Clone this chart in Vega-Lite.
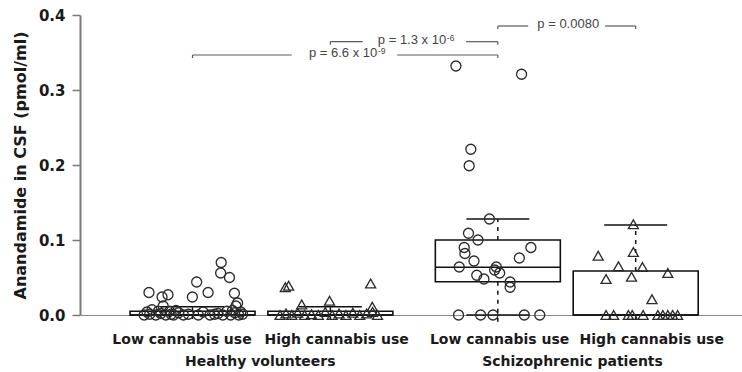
{
  "$schema": "https://vega.github.io/schema/vega-lite/v6.json",
  "width": 662,
  "height": 300,
  "autosize": {"type": "none"},
  "padding": {"left": 80, "top": 15, "right": 0, "bottom": 57},
  "background": "white",
  "config": {"view": {"stroke": null}},
  "datasets": {
    "boxes": [
      {"pos": 1.0, "q1": 0, "med": 0, "q3": 0.005, "hi": 0.011, "lo": 0, "tail": -0.009},
      {"pos": 2.0, "q1": 0, "med": 0, "q3": 0.005, "hi": 0.011, "lo": 0, "tail": -0.009},
      {"pos": 3.215, "q1": 0.0444, "med": 0.0636, "q3": 0.1, "hi": 0.128, "lo": 0, "tail": -0.009},
      {"pos": 4.215, "q1": 0, "med": 0, "q3": 0.0587, "hi": 0.12, "lo": 0, "tail": -0.009}
    ],
    "points": [
      {"use": "Low", "x": 1.208, "y": 0.070}, {"use": "Low", "x": 1.204, "y": 0.056}, {"use": "Low", "x": 1.268, "y": 0.050},
      {"use": "Low", "x": 1.030, "y": 0.044}, {"use": "Low", "x": 1.113, "y": 0.030}, {"use": "Low", "x": 0.999, "y": 0.024},
      {"use": "Low", "x": 0.684, "y": 0.030}, {"use": "Low", "x": 0.779, "y": 0.024}, {"use": "Low", "x": 0.822, "y": 0.027},
      {"use": "Low", "x": 1.304, "y": 0.029}, {"use": "Low", "x": 1.327, "y": 0.016}, {"use": "Low", "x": 1.315, "y": 0.012},
      {"use": "Low", "x": 0.787, "y": 0.012},
      {"use": "Low", "x": 0.649, "y": 0.0}, {"use": "Low", "x": 0.670, "y": 0.004}, {"use": "Low", "x": 0.706, "y": 0.007},
      {"use": "Low", "x": 0.734, "y": 0.0}, {"use": "Low", "x": 0.770, "y": 0.002}, {"use": "Low", "x": 0.806, "y": 0.0},
      {"use": "Low", "x": 0.834, "y": 0.005}, {"use": "Low", "x": 0.863, "y": 0.0}, {"use": "Low", "x": 0.899, "y": 0.003},
      {"use": "Low", "x": 0.934, "y": 0.0}, {"use": "Low", "x": 0.970, "y": 0.001}, {"use": "Low", "x": 1.042, "y": 0.0},
      {"use": "Low", "x": 1.077, "y": 0.004}, {"use": "Low", "x": 1.127, "y": 0.0}, {"use": "Low", "x": 1.185, "y": 0.002},
      {"use": "Low", "x": 1.220, "y": 0.0}, {"use": "Low", "x": 1.249, "y": 0.005}, {"use": "Low", "x": 1.277, "y": 0.0},
      {"use": "Low", "x": 1.306, "y": 0.003}, {"use": "Low", "x": 1.335, "y": 0.0}, {"use": "Low", "x": 1.363, "y": 0.001},
      {"use": "Low", "x": 0.690, "y": 0.001}, {"use": "Low", "x": 0.752, "y": 0.005}, {"use": "Low", "x": 0.845, "y": 0.001},
      {"use": "Low", "x": 0.880, "y": 0.006}, {"use": "Low", "x": 1.160, "y": 0.001}, {"use": "Low", "x": 1.290, "y": 0.006},
      {"use": "Low", "x": 1.350, "y": 0.004},
      {"use": "High", "x": 1.673, "y": 0.037}, {"use": "High", "x": 1.697, "y": 0.039}, {"use": "High", "x": 2.292, "y": 0.042},
      {"use": "High", "x": 1.994, "y": 0.019}, {"use": "High", "x": 1.792, "y": 0.014}, {"use": "High", "x": 2.304, "y": 0.011},
      {"use": "High", "x": 1.635, "y": 0.0}, {"use": "High", "x": 1.678, "y": 0.002}, {"use": "High", "x": 1.720, "y": 0.0},
      {"use": "High", "x": 1.763, "y": 0.003}, {"use": "High", "x": 1.813, "y": 0.0}, {"use": "High", "x": 1.863, "y": 0.001},
      {"use": "High", "x": 1.913, "y": 0.0}, {"use": "High", "x": 1.963, "y": 0.004}, {"use": "High", "x": 2.013, "y": 0.0},
      {"use": "High", "x": 2.063, "y": 0.002}, {"use": "High", "x": 2.113, "y": 0.0}, {"use": "High", "x": 2.163, "y": 0.003},
      {"use": "High", "x": 2.213, "y": 0.0}, {"use": "High", "x": 2.263, "y": 0.002}, {"use": "High", "x": 2.306, "y": 0.004},
      {"use": "High", "x": 2.342, "y": 0.0},
      {"use": "Low", "x": 2.911, "y": 0.332}, {"use": "Low", "x": 3.387, "y": 0.321}, {"use": "Low", "x": 3.019, "y": 0.221},
      {"use": "Low", "x": 3.007, "y": 0.199}, {"use": "Low", "x": 3.154, "y": 0.128}, {"use": "Low", "x": 3.002, "y": 0.109},
      {"use": "Low", "x": 3.071, "y": 0.100}, {"use": "Low", "x": 2.971, "y": 0.090}, {"use": "Low", "x": 2.976, "y": 0.082},
      {"use": "Low", "x": 3.455, "y": 0.090}, {"use": "Low", "x": 3.371, "y": 0.076}, {"use": "Low", "x": 3.042, "y": 0.072},
      {"use": "Low", "x": 2.935, "y": 0.064}, {"use": "Low", "x": 3.204, "y": 0.064}, {"use": "Low", "x": 3.192, "y": 0.060},
      {"use": "Low", "x": 3.228, "y": 0.056}, {"use": "Low", "x": 3.062, "y": 0.053}, {"use": "Low", "x": 3.114, "y": 0.048},
      {"use": "Low", "x": 3.304, "y": 0.044}, {"use": "Low", "x": 3.304, "y": 0.037},
      {"use": "Low", "x": 2.930, "y": 0.0}, {"use": "Low", "x": 3.090, "y": 0.0}, {"use": "Low", "x": 3.180, "y": 0.0},
      {"use": "Low", "x": 3.407, "y": 0.0}, {"use": "Low", "x": 3.519, "y": 0.0},
      {"use": "High", "x": 4.198, "y": 0.121}, {"use": "High", "x": 4.198, "y": 0.084}, {"use": "High", "x": 3.943, "y": 0.079},
      {"use": "High", "x": 4.090, "y": 0.065}, {"use": "High", "x": 4.264, "y": 0.064}, {"use": "High", "x": 4.448, "y": 0.056},
      {"use": "High", "x": 4.000, "y": 0.048}, {"use": "High", "x": 4.185, "y": 0.051}, {"use": "High", "x": 4.333, "y": 0.021},
      {"use": "High", "x": 4.000, "y": 0.0}, {"use": "High", "x": 4.055, "y": 0.0}, {"use": "High", "x": 4.162, "y": 0.0},
      {"use": "High", "x": 4.190, "y": 0.0}, {"use": "High", "x": 4.269, "y": 0.0}, {"use": "High", "x": 4.376, "y": 0.0},
      {"use": "High", "x": 4.412, "y": 0.0}, {"use": "High", "x": 4.448, "y": 0.0}, {"use": "High", "x": 4.483, "y": 0.0},
      {"use": "High", "x": 4.519, "y": 0.0}
    ],
    "segments": [
      {"x": 1.0, "x2": 1.720, "y": 0.3467}, {"x": 2.485, "x2": 3.215, "y": 0.3467},
      {"x": 2.0, "x2": 2.235, "y": 0.3644}, {"x": 2.985, "x2": 3.215, "y": 0.3644},
      {"x": 3.215, "x2": 3.435, "y": 0.3853}, {"x": 3.993, "x2": 4.215, "y": 0.3853}
    ],
    "ends": [
      {"x": 1.0, "y": 0.3467, "y2": 0.3427}, {"x": 3.215, "y": 0.3467, "y2": 0.3427},
      {"x": 2.0, "y": 0.3644, "y2": 0.3604}, {"x": 3.215, "y": 0.3644, "y2": 0.3604},
      {"x": 3.215, "y": 0.3853, "y2": 0.3813}, {"x": 4.215, "y": 0.3853, "y2": 0.3813}
    ],
    "ptext": [
      {"label": "p = 6.6 x 10", "x": 2.340, "y": 0.3467},
      {"label": "p = 1.3 x 10", "x": 2.840, "y": 0.3644},
      {"label": "p = 0.0080", "x": 3.950, "y": 0.3853}
    ],
    "sup": [
      {"label": "-9", "x": 2.345, "y": 0.3467},
      {"label": "-6", "x": 2.845, "y": 0.3644}
    ],
    "groups": [
      {"label": "Healthy volunteers", "x": 1.492},
      {"label": "Schizophrenic patients", "x": 3.757}
    ]
  },
  "layer": [
    {
      "data": {"name": "boxes"},
      "mark": {"type": "bar", "width": 125, "fill": "transparent", "stroke": "#111111", "strokeWidth": 1.6},
      "encoding": {
        "x": {
          "field": "pos", "type": "quantitative",
          "scale": {"domain": [0.22, 4.95], "nice": false, "zero": false},
          "axis": {
            "values": [0.92, 2.042, 3.224, 4.328],
            "labelExpr": "datum.value < 1.5 ? 'Low cannabis use' : datum.value < 2.5 ? 'High cannabis use' : datum.value < 3.7 ? 'Low cannabis use' : 'High cannabis use'",
            "ticks": false, "grid": false, "title": null,
            "domainColor": "#8a8a8a", "domainWidth": 1,
            "labelFont": "DejaVu Sans", "labelFontWeight": "bold", "labelFontSize": 14, "labelColor": "#1a1a1a",
            "labelPadding": 17, "labelFlush": false, "labelOverlap": false
          }
        },
        "y": {
          "field": "q1", "type": "quantitative",
          "scale": {"domain": [0, 0.4], "nice": false, "zero": false},
          "axis": {
            "title": "Anandamide in CSF (pmol/ml)",
            "values": [0, 0.05, 0.1, 0.15, 0.2, 0.25, 0.3, 0.35, 0.4],
            "labelExpr": "round(datum.value*100) % 10 == 0 ? format(datum.value, '.1f') : ''",
            "tickSize": {"condition": {"test": "round(datum.value*100) % 10 != 0", "value": 4}, "value": 8},
            "tickColor": "#7a7a7a", "tickWidth": 1.5,
            "domainColor": "#7a7a7a", "domainWidth": 2, "grid": false,
            "labelFont": "DejaVu Sans", "labelFontWeight": "bold", "labelFontSize": 15, "labelColor": "#1a1a1a",
            "labelPadding": 7, "labelOverlap": false,
            "titleFont": "DejaVu Sans", "titleFontWeight": "bold", "titleFontSize": 16, "titleColor": "#1a1a1a",
            "titlePadding": 10
          }
        },
        "y2": {"field": "q3"}
      }
    },
    {
      "data": {"name": "boxes"},
      "mark": {"type": "tick", "orient": "horizontal", "size": 125, "thickness": 1.6, "color": "#111111", "opacity": 1},
      "encoding": {
        "x": {"field": "pos", "type": "quantitative"},
        "y": {"field": "med", "type": "quantitative"}
      }
    },
    {
      "data": {"name": "boxes"},
      "mark": {"type": "rule", "strokeDash": [4, 5], "strokeWidth": 1.5, "color": "#111111"},
      "encoding": {
        "x": {"field": "pos", "type": "quantitative"},
        "y": {"field": "q3", "type": "quantitative"},
        "y2": {"field": "hi"}
      }
    },
    {
      "data": {"name": "boxes"},
      "mark": {"type": "rule", "strokeDash": [4, 5], "strokeWidth": 1.5, "color": "#111111"},
      "encoding": {
        "x": {"field": "pos", "type": "quantitative"},
        "y": {"field": "q1", "type": "quantitative"},
        "y2": {"field": "tail"}
      }
    },
    {
      "data": {"name": "boxes"},
      "mark": {"type": "tick", "orient": "horizontal", "size": 63, "thickness": 1.6, "color": "#111111", "opacity": 1},
      "encoding": {
        "x": {"field": "pos", "type": "quantitative"},
        "y": {"field": "hi", "type": "quantitative"}
      }
    },
    {
      "data": {"name": "boxes"},
      "mark": {"type": "tick", "orient": "horizontal", "size": 63, "thickness": 1.6, "color": "#111111", "opacity": 1},
      "encoding": {
        "x": {"field": "pos", "type": "quantitative"},
        "y": {"field": "lo", "type": "quantitative"}
      }
    },
    {
      "data": {"name": "points"},
      "mark": {"type": "point", "filled": false, "size": 100, "stroke": "#2a2a2a", "strokeWidth": 1.3, "opacity": 1},
      "encoding": {
        "x": {"field": "x", "type": "quantitative"},
        "y": {"field": "y", "type": "quantitative"},
        "shape": {"field": "use", "type": "nominal", "scale": {"domain": ["Low", "High"], "range": ["circle", "triangle-up"]}, "legend": null}
      }
    },
    {
      "data": {"name": "segments"},
      "mark": {"type": "rule", "color": "#5a5a5a", "strokeWidth": 1.2},
      "encoding": {
        "x": {"field": "x", "type": "quantitative"},
        "x2": {"field": "x2"},
        "y": {"field": "y", "type": "quantitative"}
      }
    },
    {
      "data": {"name": "ends"},
      "mark": {"type": "rule", "color": "#5a5a5a", "strokeWidth": 1.2},
      "encoding": {
        "x": {"field": "x", "type": "quantitative"},
        "y": {"field": "y", "type": "quantitative"},
        "y2": {"field": "y2"}
      }
    },
    {
      "data": {"name": "ptext"},
      "mark": {"type": "text", "align": "right", "baseline": "middle", "dy": -2, "font": "Liberation Sans", "fontSize": 13, "color": "#444444"},
      "encoding": {
        "x": {"field": "x", "type": "quantitative"},
        "y": {"field": "y", "type": "quantitative"},
        "text": {"field": "label"}
      }
    },
    {
      "data": {"name": "sup"},
      "mark": {"type": "text", "align": "left", "baseline": "middle", "dy": -4, "font": "Liberation Sans", "fontSize": 8.5, "color": "#444444"},
      "encoding": {
        "x": {"field": "x", "type": "quantitative"},
        "y": {"field": "y", "type": "quantitative"},
        "text": {"field": "label"}
      }
    },
    {
      "data": {"name": "groups"},
      "mark": {"type": "text", "align": "center", "baseline": "alphabetic", "dy": 51, "font": "DejaVu Sans", "fontWeight": "bold", "fontSize": 14, "color": "#1a1a1a"},
      "encoding": {
        "x": {"field": "x", "type": "quantitative"},
        "y": {"datum": 0},
        "text": {"field": "label"}
      }
    },
    {
      "mark": {"type": "rule", "color": "#7a7a7a", "strokeWidth": 2},
      "encoding": {"y": {"datum": 0.4}}
    }
  ]
}
